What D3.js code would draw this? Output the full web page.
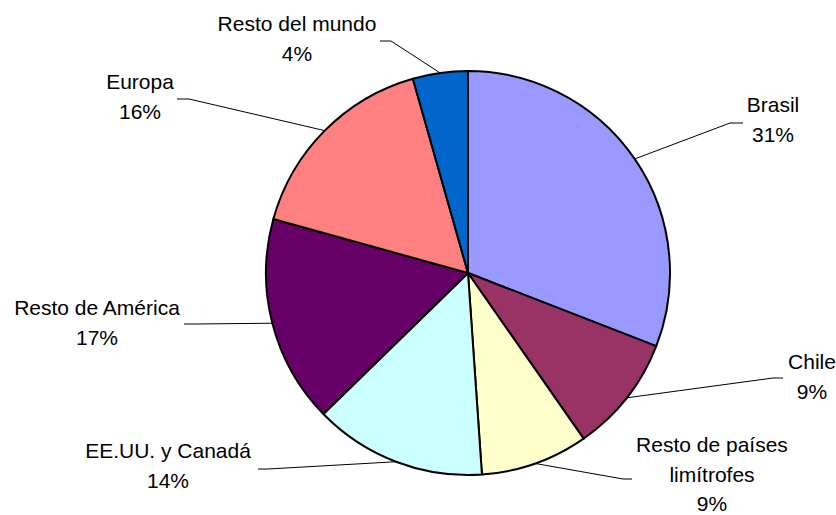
<!DOCTYPE html>
<html>
<head>
<meta charset="utf-8">
<script src="https://cdn.jsdelivr.net/npm/d3@7"></script>
<style>
  body { margin: 0; background: #fff; }
  text { font-family: "Liberation Sans", Arial, sans-serif; font-size: 21px; fill: #000; }
</style>
</head>
<body>
<div id="pieChart"></div>
<script>
// data
const categories = ["Brasil", "Chile", "Resto de países limítrofes", "EE.UU. y Canadá", "Resto de América", "Europa", "Resto del mundo"];
const shares = [30.9, 9.4, 8.6, 13.8, 16.6, 16.3, 4.4];
const colors = ["#9999FF", "#993366", "#FFFFCC", "#CCFFFF", "#660066", "#FF8080", "#0066CC"];

// label placement (text centre x, first baseline, line breaks, leader end + elbow)
const labelLayout = [
    { x: 773, y: 112, lines: ["Brasil"], end: [743, 123], elbow: [730, 123] },
    { x: 812, y: 369, lines: ["Chile"], end: [783, 378], elbow: [773, 378] },
    { x: 712, y: 452, lines: ["Resto de países", "limítrofes"], end: [632, 479], elbow: [623, 479] },
    { x: 168, y: 458, lines: ["EE.UU. y Canadá"], end: [258, 469], elbow: [268, 469] },
    { x: 97, y: 315, lines: ["Resto de América"], end: [184, 324], elbow: [196, 324] },
    { x: 140, y: 89, lines: ["Europa"], end: [177, 99], elbow: [189, 99] },
    { x: 297, y: 31, lines: ["Resto del mundo"], end: [380, 41], elbow: [391, 41] }
];

function createPieChart() {
    const width = 836;
    const height = 515;
    const cx = 468, cy = 273;
    const radius = 202;

    const svg = d3.select("#pieChart")
        .append("svg")
        .attr("width", width)
        .attr("height", height);

    const g = svg.append("g")
        .attr("transform", "translate(" + cx + "," + cy + ")");

    const pie = d3.pie()
        .value((d, i) => shares[i])
        .sort(null);

    const arc = d3.arc().innerRadius(0).outerRadius(radius);
    const edgeArc = d3.arc().innerRadius(radius).outerRadius(radius);

    const arcs = pie(categories);

    g.selectAll("path.slice")
        .data(arcs)
        .enter()
        .append("path")
        .attr("class", "slice")
        .attr("d", arc)
        .attr("fill", (d, i) => colors[i])
        .attr("stroke", "#000")
        .attr("stroke-width", 2)
        .attr("stroke-linejoin", "round");

    // leader lines
    svg.selectAll("polyline.leader")
        .data(arcs)
        .enter()
        .append("polyline")
        .attr("class", "leader")
        .attr("fill", "none")
        .attr("stroke", "#000")
        .attr("stroke-width", 1)
        .attr("points", (d, i) => {
            const c = edgeArc.centroid(d);
            const L = labelLayout[i];
            return [[c[0] + cx, c[1] + cy], L.elbow, L.end].map(p => p.join(",")).join(" ");
        });

    // labels
    const labels = svg.selectAll("text.lbl")
        .data(arcs)
        .enter()
        .append("text")
        .attr("class", "lbl")
        .attr("text-anchor", "middle");

    labels.each(function (d, i) {
        const L = labelLayout[i];
        const t = d3.select(this);
        const pct = Math.round(shares[i]) + "%";
        L.lines.concat([pct]).forEach((line, k) => {
            t.append("tspan")
                .attr("x", L.x)
                .attr("y", L.y + k * 29.5)
                .text(line);
        });
    });
}

createPieChart();
</script>
</body>
</html>
